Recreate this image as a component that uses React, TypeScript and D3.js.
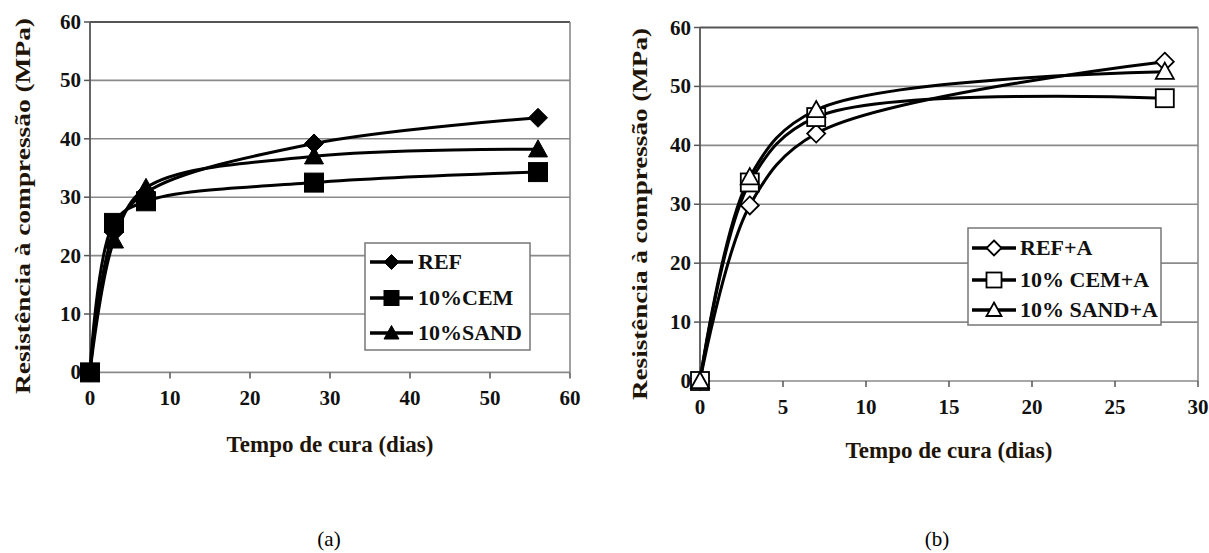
import React from "react";
import * as d3 from "d3";

// ---- data ----
const daysA = [0, 3, 7, 28, 56];
const refA = [0, 24.0, 30.8, 39.2, 43.6];
const cemA = [0, 25.6, 29.3, 32.5, 34.3];
const sandA = [0, 22.6, 31.6, 37.0, 38.2];

const daysB = [0, 3, 7, 28];
const refB = [0, 29.8, 42.0, 54.2];
const cemB = [0, 33.7, 44.8, 48.0];
const sandB = [0, 34.6, 46.0, 52.5];

const yTicks = [0, 10, 20, 30, 40, 50, 60];
const xTicksA = [0, 10, 20, 30, 40, 50, 60];
const xTicksB = [0, 5, 10, 15, 20, 25, 30];

const legendA = ["REF", "10%CEM", "10%SAND"];
const legendB = ["REF+A", "10% CEM+A", "10% SAND+A"];

const yTitle = "Resistência à compressão (MPa)";
const xTitle = "Tempo de cura (dias)";

const FONT = "Liberation Serif";

type Shape = "diamond" | "square" | "triangle";

function Marker({ x, y, shape, size, open }: { x: number; y: number; shape: Shape; size: number; open: boolean }) {
  const fill = open ? "#fff" : "#000";
  const stroke = "#000";
  const sw = open ? 1.8 : 1;
  const h = size / 2;
  if (shape === "square") {
    return <rect x={x - h} y={y - h} width={size} height={size} fill={fill} stroke={stroke} strokeWidth={sw} />;
  }
  if (shape === "diamond") {
    const d = `M${x},${y - h} L${x + h},${y} L${x},${y + h} L${x - h},${y} Z`;
    return <path d={d} fill={fill} stroke={stroke} strokeWidth={sw} />;
  }
  const d = `M${x},${y - h} L${x + h},${y + h * 0.8} L${x - h},${y + h * 0.8} Z`;
  return <path d={d} fill={fill} stroke={stroke} strokeWidth={sw} strokeLinejoin="miter" />;
}

interface PanelProps {
  days: number[];
  series: number[][];
  names: string[];
  xTicks: number[];
  xMax: number;
  x0: number;
  x1: number;
  y0: number;
  y1: number;
  open: boolean;
  msize: number;
  legend: { x: number; y: number; w: number; h: number; rows: number[]; lx0: number; lx1: number; tx: number; ms: number };
  yTitleX: number;
  yTitleC: number;
  yTitleLen: number;
  xTitleY: number;
}

const shapes: Shape[] = ["diamond", "square", "triangle"];

function Panel(p: PanelProps) {
  const xs = d3.scaleLinear().domain([0, p.xMax]).range([p.x0, p.x1]);
  const ys = d3.scaleLinear().domain([0, 60]).range([p.y0, p.y1]);
  const line = d3
    .line<[number, number]>()
    .x((d) => xs(d[0]))
    .y((d) => ys(d[1]))
    .curve(d3.curveCatmullRom.alpha(0.5));
  const L = p.legend;
  return (
    <g>
      {/* gridlines */}
      {yTicks.filter((t) => t > 0 && t < 60).map((t) => (
        <line key={"g" + t} x1={p.x0} x2={p.x1} y1={ys(t)} y2={ys(t)} stroke="#8a8a8a" strokeWidth={1.6} />
      ))}
      {/* frame */}
      <line x1={p.x0} x2={p.x1} y1={ys(60)} y2={ys(60)} stroke="#555" strokeWidth={1.8} />
      <line x1={p.x1} x2={p.x1} y1={ys(60)} y2={ys(0)} stroke="#8a8a8a" strokeWidth={1.6} />
      <line x1={p.x0} x2={p.x1} y1={ys(0)} y2={ys(0)} stroke="#8a8a8a" strokeWidth={1.6} />
      <line x1={p.x0} x2={p.x0} y1={ys(60)} y2={ys(0)} stroke="#555" strokeWidth={1.8} />
      {/* y ticks */}
      {yTicks.map((t) => (
        <g key={"y" + t}>
          <line x1={p.x0 - 6} x2={p.x0} y1={ys(t)} y2={ys(t)} stroke="#555" strokeWidth={1.5} />
          <text x={p.x0 - 9} y={ys(t) + 7} textAnchor="end" fontFamily={FONT} fontWeight="bold" fontSize={21} fill="#111">
            {t}
          </text>
        </g>
      ))}
      {/* x ticks */}
      {p.xTicks.map((t) => (
        <g key={"x" + t}>
          <line x1={xs(t)} x2={xs(t)} y1={ys(0)} y2={ys(0) + 6} stroke="#555" strokeWidth={1.5} />
          <text x={xs(t)} y={ys(0) + 33} textAnchor="middle" fontFamily={FONT} fontWeight="bold" fontSize={21} fill="#111">
            {t}
          </text>
        </g>
      ))}
      {/* series lines */}
      {p.series.map((s, i) => (
        <path key={"l" + i} d={line(p.days.map((d, j) => [d, s[j]] as [number, number])) || ""} fill="none" stroke="#000" strokeWidth={3} />
      ))}
      {/* markers */}
      {p.series.map((s, i) =>
        p.days.map((d, j) => <Marker key={"m" + i + "-" + j} x={xs(d)} y={ys(s[j])} shape={shapes[i]} size={p.msize} open={p.open} />)
      )}
      {/* legend */}
      <rect x={L.x} y={L.y} width={L.w} height={L.h} fill="#fff" stroke="#777" strokeWidth={1.5} />
      {p.names.map((n, i) => (
        <g key={"lg" + i}>
          <line x1={L.lx0} x2={L.lx1} y1={L.rows[i]} y2={L.rows[i]} stroke="#000" strokeWidth={3.5} />
          <Marker x={(L.lx0 + L.lx1) / 2} y={L.rows[i]} shape={shapes[i]} size={L.ms} open={p.open} />
          <text x={L.tx} y={L.rows[i] + 7} fontFamily={FONT} fontWeight="bold" fontSize={22} fill="#111">
            {n}
          </text>
        </g>
      ))}
      {/* titles */}
      <text
        transform={`translate(${p.yTitleX},${p.yTitleC}) rotate(-90)`}
        textAnchor="middle"
        dominantBaseline="central"
        fontFamily={FONT}
        fontWeight="bold"
        fontSize={22}
        fill="#1e1408"
        textLength={p.yTitleLen}
        lengthAdjust="spacingAndGlyphs"
      >
        {yTitle}
      </text>
      <text x={(p.x0 + p.x1) / 2} y={p.xTitleY} textAnchor="middle" fontFamily={FONT} fontWeight="bold" fontSize={23} fill="#1e1408">
        {xTitle}
      </text>
    </g>
  );
}

export default function App() {
  return (
    <svg width={1209} height={553} style={{ position: "absolute", left: 0, top: 0, background: "#fff" }}>
      <rect width={1209} height={553} fill="#fff" />
      <Panel
        days={daysA}
        series={[refA, cemA, sandA]}
        names={legendA}
        xTicks={xTicksA}
        xMax={60}
        x0={90}
        x1={570}
        y0={372.4}
        y1={22}
        open={false}
        msize={19}
        legend={{ x: 365, y: 243, w: 165, h: 107, rows: [262, 298, 333], lx0: 370, lx1: 413, tx: 418, ms: 15 }}
        yTitleX={22}
        yTitleC={206}
        yTitleLen={376}
        xTitleY={452}
      />
      <Panel
        days={daysB}
        series={[refB, cemB, sandB]}
        names={legendB}
        xTicks={xTicksB}
        xMax={30}
        x0={700}
        x1={1198}
        y0={381}
        y1={27.5}
        open={true}
        msize={18}
        legend={{ x: 968, y: 228, w: 193, h: 97, rows: [248, 280, 310], lx0: 972, lx1: 1016, tx: 1020, ms: 15 }}
        yTitleX={639}
        yTitleC={214}
        yTitleLen={372}
        xTitleY={458}
      />
      <text x={329} y={546} textAnchor="middle" fontFamily={FONT} fontSize={21} fill="#000">(a)</text>
      <text x={937} y={546} textAnchor="middle" fontFamily={FONT} fontSize={21} fill="#000">(b)</text>
    </svg>
  );
}
